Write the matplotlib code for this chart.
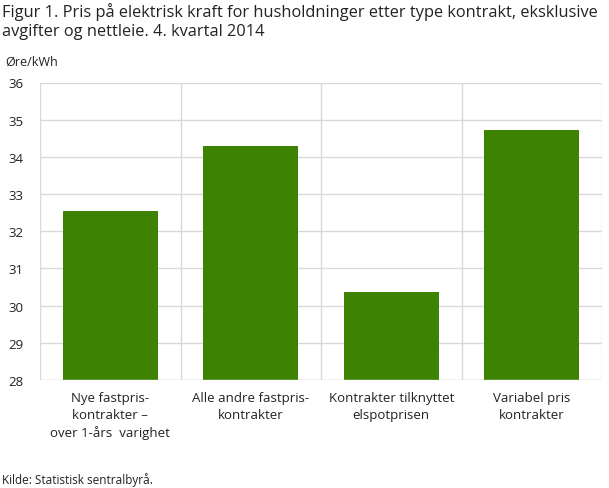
import numpy as np
import matplotlib.pyplot as plt

categories = ["Nye fastpris-\nkontrakter –\nover 1-års  varighet",
              "Alle andre fastpris-\nkontrakter",
              "Kontrakter tilknyttet\nelspotprisen",
              "Variabel pris\nkontrakter"]
values = [32.55, 34.29, 30.37, 34.72]
yticks = [28, 29, 30, 31, 32, 33, 34, 35, 36]

plt.rcParams['font.family'] = ['Open Sans', 'DejaVu Sans']

fig = plt.figure(figsize=(6.09, 4.89), dpi=100)
ax = fig.add_axes([40 / 609, 1 - 381 / 489, 562 / 609, 297.5 / 489])

x = np.arange(len(categories))
ax.bar(x, values, width=0.675, color='#3d8200', zorder=3)

ax.set_xlim(-0.5, len(categories) - 0.5)
ax.set_ylim(28, 36)
ax.set_yticks(yticks)
ax.set_xticks(x)
ax.set_xticklabels(categories, fontsize=9.5, color='#222222', linespacing=1.4)
ax.tick_params(axis='y', labelsize=9.5, colors='#222222', length=0, pad=12)
ax.tick_params(axis='x', length=0, pad=8)

# vertical separators between categories
for b in np.arange(-0.5, len(categories), 1.0):
    ax.axvline(b, color='#d9d9d9', lw=1, zorder=1)
ax.grid(axis='y', color='#d9d9d9', lw=1, zorder=1)
for s in ax.spines.values():
    s.set_visible(False)
ax.axhline(28, color='#d9d9d9', lw=1, zorder=4)

fig.text(2 / 609, 1 - 3 / 489,
         "Figur 1. Pris på elektrisk kraft for husholdninger etter type kontrakt, eksklusive\n"
         "avgifter og nettleie. 4. kvartal 2014",
         fontsize=11.8, fontweight='normal', color='#222222', va='top', ha='left',
         linespacing=1.25)
fig.text(5 / 609, 1 - 62 / 489, "Øre/kWh", fontsize=9, color='#222222', va='center')
fig.text(2 / 609, 1 - 480 / 489, "Kilde: Statistisk sentralbyrå.", fontsize=8.5,
         color='#222222', va='center')

fig.savefig('out.png', dpi=100)
